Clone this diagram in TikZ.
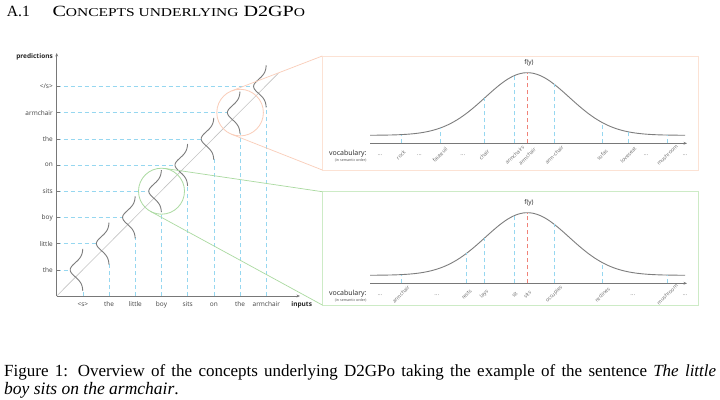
\documentclass[tikz,border=0pt]{standalone}
\usepackage{fontspec}
\setmainfont{Liberation Serif}
\newfontfamily\figfont{Open Sans}
\usetikzlibrary{calc,arrows.meta}
\definecolor{dashblue}{RGB}{150,215,240}
\definecolor{curvegray}{RGB}{125,125,125}
\definecolor{diaggray}{RGB}{195,195,195}
\definecolor{axisgray}{RGB}{120,120,120}
\definecolor{orangeC}{RGB}{250,205,185}
\definecolor{orangeBox}{RGB}{252,226,212}
\definecolor{greenC}{RGB}{170,218,160}
\definecolor{greenBox}{RGB}{205,235,198}
\definecolor{redD}{RGB}{240,130,120}
\tikzset{
  bluedash/.style={draw=dashblue, dash pattern=on 4pt off 3pt, line width=0.6pt},
  reddash/.style={draw=redD, dash pattern=on 4pt off 3pt, line width=0.8pt},
  gcurve/.style={draw=curvegray, line width=0.9pt},
  axisline/.style={draw=axisgray, line width=0.7pt, -{Stealth[length=3.5pt,width=2.8pt]}},
  ticklbl/.style={font=\figfont\fontsize{6.5}{7}\selectfont, text=black!75, inner sep=0},
  boldlbl/.style={font=\figfont\bfseries\fontsize{6.5}{7}\selectfont, text=black!85, inner sep=0},
  vocab/.style={font=\figfont\fontsize{5.2}{6}\selectfont, text=black!60, inner sep=0},
  dotsst/.style={font=\figfont\fontsize{6}{7}\selectfont, text=black!50, inner sep=0},
  vlab/.style={font=\figfont\fontsize{7}{8}\selectfont, text=black!85, inner sep=0, anchor=east},
  vsub/.style={font=\figfont\fontsize{3.6}{4}\selectfont, text=black!70, inner sep=0, anchor=east},
  fylbl/.style={font=\figfont\fontsize{6.5}{7}\selectfont, text=black!85, inner sep=0},
  tang/.style={line width=0.7pt},
}
\newcommand{\rotw}[1]{\rotatebox{45}{#1}}
\begin{document}
\begin{tikzpicture}[x=1pt,y=-1pt]
\useasboundingbox[fill=white] (0,0) rectangle (720,399);
% heading
\node[anchor=base west, inner sep=0] (hnum) at (6.7,16) {\fontsize{15.6}{18}\selectfont A.1};
\node[anchor=base west, inner sep=0] (htitle) at (52.3,16) {\scalebox{1.29}[1]{\fontsize{15.6}{18}\selectfont C{\fontsize{12}{14}\selectfont ONCEPTS UNDERLYING} D2GP{\fontsize{12}{14}\selectfont O}}};
% ---------- left chart ----------
\coordinate (O) at (56.7,296);
\foreach \k/\inp/\pred in {1/{<s>}/the, 2/the/little, 3/little/boy, 4/boy/sits, 5/sits/on, 6/on/the, 7/the/armchair, 8/armchair/{</s>}}{
  \pgfmathsetmacro\cx{56.7+26.2*\k}
  \pgfmathsetmacro\ry{296-26.2*\k}
  \draw[bluedash] (\cx,296) -- (\cx,\ry+20);
  \draw[bluedash] (56.7,\ry) -- (\cx-12.7,\ry);
  \draw[axisgray, line width=0.6pt] (56.7,\ry) -- (59.7,\ry);
  \node[ticklbl, anchor=east] (p\k) at (53,\ry) {\pred};
  \node[ticklbl, anchor=base] (i\k) at (\cx,306) {\inp};
}
\draw[diaggray, line width=0.6pt] (O) -- (278.3,73.3);
\foreach \k in {1,...,8}{
  \pgfmathsetmacro\cx{56.7+26.2*\k}
  \pgfmathsetmacro\ry{296-26.2*\k}
  \draw[gcurve] plot[domain=-21:21, samples=40, variable=\t] ({\cx-12.7*exp(-(\t*\t)/98)}, {\ry+\t});
}
\draw[axisline] (O) -- (56.7,53);
\draw[axisline] (O) -- (300,296);
\node[boldlbl, anchor=east] (predlbl) at (53,57.3) {predictions};
\node[boldlbl, anchor=base] (inplbl) at (301.7,306) {inputs};
% circles
\node[circle, draw=orangeC, line width=0.8pt, minimum size=46.6pt, inner sep=0, outer sep=0] (oc) at (240.1,112.6) {};
\node[circle, draw=greenC, line width=0.8pt, minimum size=46pt, inner sep=0, outer sep=0] (gc) at (161.5,191.2) {};
% ---------- panels ----------
\coordinate (otl) at (322.3,56);
\coordinate (obl) at (322.3,170);
\coordinate (obr) at (698.3,170);
\coordinate (gtl) at (322.3,191.7);
\coordinate (gbl) at (322.3,305);
\coordinate (gbr) at (698.3,305);
\draw[draw=orangeBox, line width=0.8pt] (otl) rectangle (obr);
\draw[draw=greenBox, line width=0.8pt] (gtl) rectangle (gbr);
\draw[tang, orangeC] (oc.111.1) -- (otl);
\draw[tang, orangeC] (oc.248.7) -- (obl);
\draw[tang, greenC] (gc.81.8) -- (gtl);
\draw[tang, greenC] (gc.241.5) -- (gbl);
% panel contents
\foreach \base/\ax/\fy/\pn in {135.3/143.3/62.3/t, 275.3/283.3/202.7/b}{
  \draw[gcurve] plot[domain=370:685, samples=120] (\x, {\base-62.6*exp(-0.5*((\x-527.3)/42)^2)});
  \draw[axisline] (370,\ax) -- (687,\ax);
  \node[fylbl] (fy\pn) at (529,\fy) {f(y)};
  \node[vlab] (voc\pn) at (366.7,\ax+10.5) {vocabulary:};
  \node[vsub] (vsub\pn) at (366.7,\ax+17.2) {(in semantic order)};
}
% top panel ticks
\foreach \xx/\w in {401/rock, 440/fauteuil, 484.3/chair, 514.7/armchairs, 554.3/arm-chair, 602.3/sofas, 628.3/loveseat, 667.3/mushroom}{
  \pgfmathsetmacro\yc{135.3-62.6*exp(-0.5*((\xx-527.3)/42)^2)}
  \draw[bluedash] (\xx,143.3) -- (\xx,\yc);
  \node[vocab] at (\xx,155) {\rotw{\w}};
}
\draw[reddash] (527.3,143.3) -- (527.3,72.7);
\node[vocab] (tcenter) at (527.3,156.5) {\rotw{armchair}};
\foreach \xx in {380, 419.3, 462.7, 646, 685}{
  \node[dotsst] at (\xx,155) {...};
}
% bottom panel ticks
\foreach \xx/\w in {401/armchair, 466.7/rests, 484.3/lays, 514.7/sit, 554.3/occupies, 602.3/reclines, 667.3/mushroom}{
  \pgfmathsetmacro\yc{275.3-62.6*exp(-0.5*((\xx-527.3)/42)^2)}
  \draw[bluedash] (\xx,283.3) -- (\xx,\yc);
  \node[vocab] at (\xx,294.5) {\rotw{\w}};
}
\draw[reddash] (527.3,283.3) -- (527.3,212.7);
\node[vocab] (bcenter) at (527.3,294.5) {\rotw{sits}};
\foreach \xx in {380, 436.7, 632.7, 685}{
  \node[dotsst] at (\xx,295) {...};
}
% caption
\node[anchor=base west, inner sep=0] (cap1) at (4,376) {\fontsize{17}{19}\selectfont\hbox to 712pt{Figure 1: Overview of the concepts underlying D2GPo taking the example of the sentence \textit{The little}}};
\node[anchor=base west, inner sep=0] (cap2) at (4,394.3) {\fontsize{17.5}{19}\selectfont \textit{boy sits on the armchair}.};
\end{tikzpicture}
\end{document}
